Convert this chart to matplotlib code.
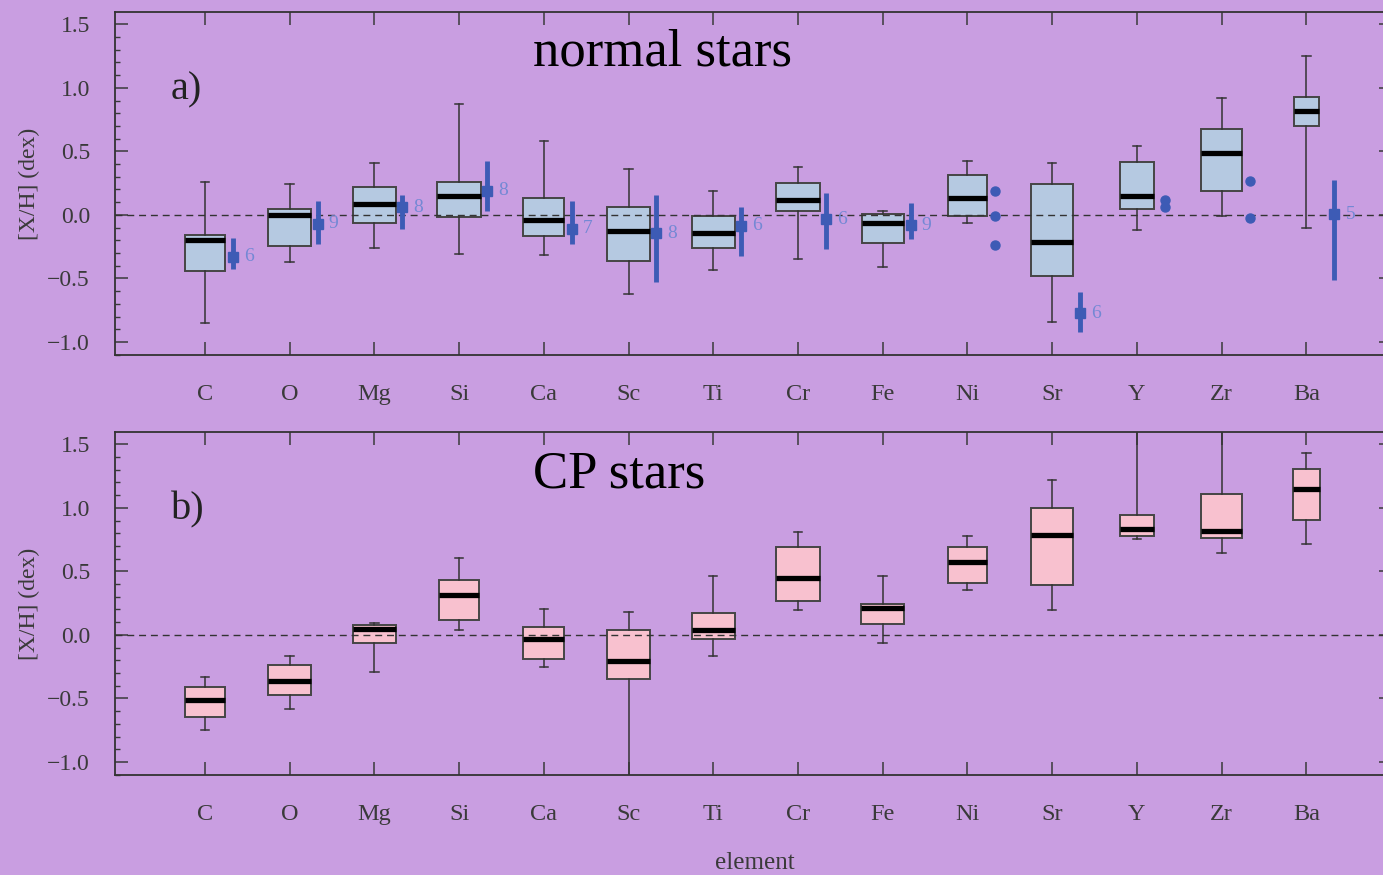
# Importando as bibliotecas
import matplotlib
matplotlib.use("Agg")
import matplotlib.pyplot as plt
from matplotlib.ticker import MultipleLocator

plt.rcParams["font.family"] = ["Liberation Serif", "DejaVu Serif"]

# Elementos no eixo x
elementos = ["C", "O", "Mg", "Si", "Ca", "Sc", "Ti", "Cr", "Fe", "Ni", "Sr", "Y", "Zr", "Ba"]

# Estrelas normais: bigode inferior, Q1, mediana, Q3, bigode superior
normal_whislo = [-0.85, -0.37, -0.26, -0.31, -0.315, -0.62, -0.43, -0.35, -0.41, -0.06, -0.84, -0.12, -0.01, -0.10]
normal_q1 = [-0.445, -0.245, -0.065, -0.02, -0.165, -0.36, -0.26, 0.03, -0.22, -0.01, -0.48, 0.045, 0.185, 0.70]
normal_med = [-0.20, 0.0, 0.085, 0.15, -0.04, -0.125, -0.145, 0.12, -0.065, 0.135, -0.21, 0.15, 0.485, 0.82]
normal_q3 = [-0.155, 0.05, 0.22, 0.26, 0.135, 0.065, -0.005, 0.25, 0.005, 0.31, 0.24, 0.42, 0.675, 0.925]
normal_whishi = [0.255, 0.24, 0.41, 0.87, 0.58, 0.36, 0.19, 0.38, 0.03, 0.425, 0.405, 0.54, 0.92, 1.25]
normal_larg = [0.47, 0.51, 0.51, 0.51, 0.48, 0.51, 0.51, 0.51, 0.50, 0.45, 0.50, 0.40, 0.48, 0.29]

# Estrelas CP: bigode inferior, Q1, mediana, Q3, bigode superior
cp_whislo = [-0.75, -0.58, -0.29, 0.04, -0.25, -1.25, -0.165, 0.195, -0.065, 0.35, 0.195, 0.755, 0.645, 0.715]
cp_q1 = [-0.645, -0.47, -0.06, 0.115, -0.19, -0.345, -0.03, 0.27, 0.085, 0.405, 0.395, 0.775, 0.76, 0.905]
cp_med = [-0.51, -0.365, 0.05, 0.31, -0.03, -0.205, 0.035, 0.45, 0.215, 0.575, 0.785, 0.835, 0.815, 1.145]
cp_q3 = [-0.41, -0.235, 0.08, 0.43, 0.06, 0.035, 0.175, 0.695, 0.245, 0.695, 0.995, 0.94, 1.11, 1.305]
cp_whishi = [-0.335, -0.165, 0.09, 0.605, 0.205, 0.18, 0.46, 0.81, 0.46, 0.775, 1.22, 1.9, 1.9, 1.435]
cp_larg = [0.47, 0.51, 0.51, 0.48, 0.48, 0.51, 0.51, 0.51, 0.51, 0.46, 0.50, 0.41, 0.48, 0.32]

# Médias (com barras) das estrelas normais e número de estrelas
media_elem = ["C", "O", "Mg", "Si", "Ca", "Sc", "Ti", "Cr", "Fe", "Sr", "Ba"]
media_val = [-0.33, -0.07, 0.06, 0.19, -0.11, -0.145, -0.085, -0.035, -0.08, -0.775, 0.005]
media_min = [-0.425, -0.23, -0.11, 0.03, -0.23, -0.525, -0.325, -0.27, -0.19, -0.925, -0.51]
media_max = [-0.18, 0.11, 0.155, 0.425, 0.11, 0.155, 0.06, 0.17, 0.09, -0.61, 0.275]
media_n = [6, 9, 8, 8, 7, 8, 6, 6, 9, 6, 5]

# Pontos individuais sem barra
pontos_elem = ["Ni", "Ni", "Ni", "Y", "Y", "Zr", "Zr"]
pontos_val = [0.19, -0.01, -0.24, 0.12, 0.06, 0.27, -0.025]

# Cores
fundo = "#c99ee1"
azul_caixa = "#b5c9e1"
rosa_caixa = "#f8c1cf"
azul = "#3d5bb5"
azul_texto = "#7488d4"
cinza = "#3a3a3a"

pos = list(range(1, len(elementos) + 1))
desloc = 0.33


# Função que desenha um painel de boxplots
def painel(ax, whislo, q1, med, q3, whishi, larg, cor):
    stats = [dict(whislo=a, q1=b, med=c, q3=d, whishi=e)
             for a, b, c, d, e in zip(whislo, q1, med, q3, whishi)]
    ax.bxp(stats, positions=pos, widths=larg, showfliers=False, patch_artist=True,
           capwidths=0.1,
           boxprops=dict(facecolor=cor, edgecolor="#454545", linewidth=1.4, zorder=2),
           medianprops=dict(color="black", linewidth=3.8, zorder=4),
           whiskerprops=dict(color="#333333", linewidth=1.1),
           capprops=dict(color="#333333", linewidth=1.1))
    ax.axhline(0, color="#333333", linewidth=1.0, linestyle=(0, (5, 3.5)), zorder=3)
    ax.set_facecolor(fundo)
    ax.set_xlim(-0.06, 15.01)
    ax.set_ylim(-1.103, 1.597)
    ax.set_xticks(pos, elementos)
    ax.yaxis.set_major_locator(MultipleLocator(0.5))
    ax.yaxis.set_minor_locator(MultipleLocator(0.1))
    ax.tick_params(axis="y", which="major", direction="in", length=9.5, width=1.1,
                   left=True, right=True, pad=18, labelsize=17, colors=cinza)
    ax.tick_params(axis="y", which="minor", direction="in", length=3.5, width=1.0,
                   left=True, right=False, colors=cinza)
    ax.tick_params(axis="x", direction="in", length=9.5, width=1.1, top=True,
                   pad=21, labelsize=17.5, colors=cinza)
    for s in ax.spines.values():
        s.set_color("#333333")
        s.set_linewidth(1.3)
    ax.text(-0.067, 0.5, "[X/H] (dex)", transform=ax.transAxes, rotation=90,
            ha="center", va="center", fontsize=17, color=cinza)


fig = plt.figure(figsize=(13.83, 8.75), dpi=100)
fig.patch.set_facecolor(fundo)

ax1 = fig.add_axes([115 / 1383, 1 - 355 / 875, 1277 / 1383, 343 / 875])
ax2 = fig.add_axes([115 / 1383, 1 - 775 / 875, 1277 / 1383, 343 / 875])

# Painel a) estrelas normais
painel(ax1, normal_whislo, normal_q1, normal_med, normal_q3, normal_whishi, normal_larg, azul_caixa)

# Médias com barras de erro
xm = [elementos.index(e) + 1 + desloc for e in media_elem]
yerr = [[v - lo for v, lo in zip(media_val, media_min)],
        [hi - v for v, hi in zip(media_val, media_max)]]
ax1.errorbar(xm, media_val, yerr=yerr, fmt="s", ms=7, color=azul, elinewidth=3.5,
             capsize=0, zorder=5)
for x, y, n in zip(xm, media_val, media_n):
    ax1.text(x + 0.13, y, str(n), fontsize=14, color=azul_texto, ha="left", va="center")

# Pontos individuais
xp = [elementos.index(e) + 1 + desloc for e in pontos_elem]
ax1.plot(xp, pontos_val, "o", ms=6.5, color=azul, zorder=5)

# Painel b) estrelas CP
painel(ax2, cp_whislo, cp_q1, cp_med, cp_q3, cp_whishi, cp_larg, rosa_caixa)

# Títulos e rótulos
fig.text(533 / 1383, 1 - 65 / 875, "normal stars", fontsize=38, ha="left", va="baseline")
fig.text(533 / 1383, 1 - 487 / 875, "CP stars", fontsize=38, ha="left", va="baseline")
fig.text(171 / 1383, 1 - 99 / 875, "a)", fontsize=29, ha="left", va="baseline", color="#222222")
fig.text(171 / 1383, 1 - 519 / 875, "b)", fontsize=29, ha="left", va="baseline", color="#222222")
fig.text(755 / 1383, 1 - 863 / 875, "element", fontsize=18, ha="center", va="center", color=cinza)

plt.savefig("out.png", dpi=100, facecolor=fundo)
